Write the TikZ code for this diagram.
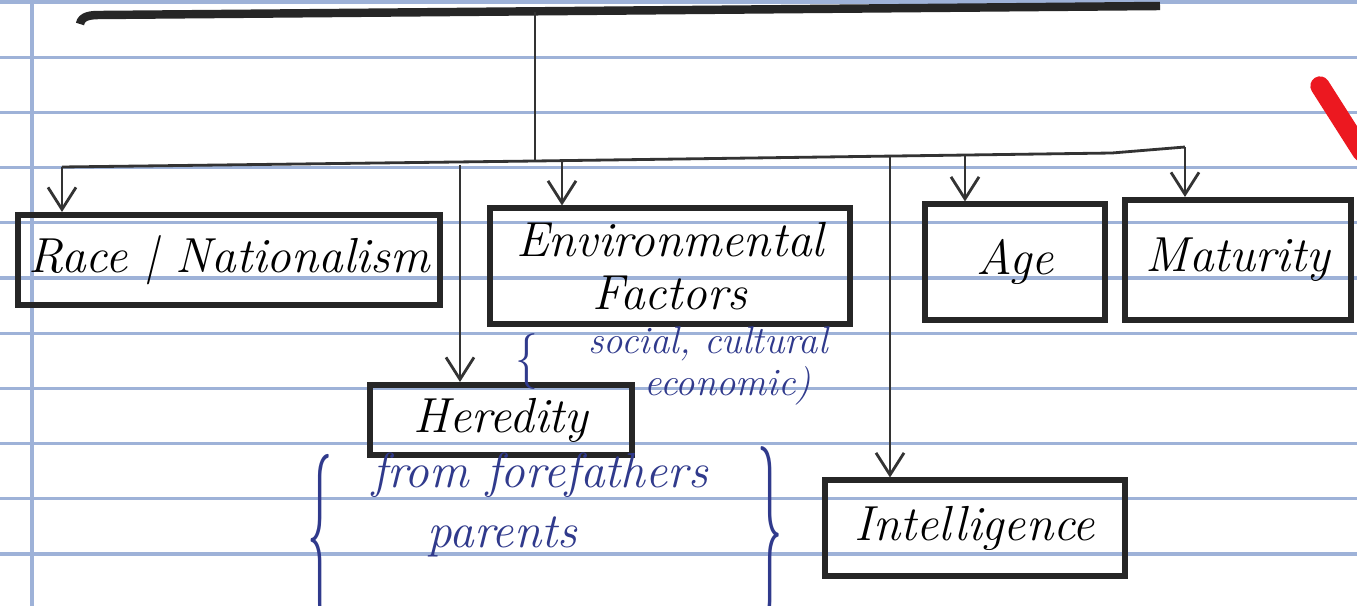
\documentclass[tikz,border=0pt]{standalone}
\usepackage{amsmath,amssymb}
\usepackage{graphicx}
\usepackage{tikz}
\usepackage{xcolor}
\usetikzlibrary{arrows.meta}
\definecolor{ruleblue}{RGB}{158,178,216}
\definecolor{inkblue}{RGB}{48,58,140}
\definecolor{inkred}{RGB}{236,24,32}

\begin{document}
\begin{tikzpicture}[x=0.01cm,y=-0.01cm,every node/.style={font=\fontsize{14}{17}\selectfont\itshape},
  box/.style={draw=black!85,line width=1.7pt,inner sep=2pt},
  link/.style={draw=black!80,line width=0.8pt},
  arr/.style={link,-{Straight Barb[length=2.2mm,width=2.8mm]}},
  note/.style={text=inkblue,font=\fontsize{11}{12}\selectfont\itshape,align=center},
  bracenote/.style={text=inkblue,inner sep=0pt,font=\fontsize{14}{17}\selectfont}]
\useasboundingbox (0,0) rectangle (1357,606);
\fill[white] (0,0) rectangle (1357,606);
\foreach \k in {0,...,10}
  \draw[ruleblue,line width=0.9pt] (0,2+55.2*\k) -- (1357,2+55.2*\k);
\draw[ruleblue,line width=0.9pt] (32,0) -- (32,606);
\draw[inkred,line width=5.5pt,line cap=round] (1320,86) -- (1362,152);
\coordinate (topl) at (80,24);
\coordinate (topr) at (1160,6);
\draw[black!85,line width=2.4pt] (topl) to[out=80,in=180] (100,15) -- (topr);
\coordinate (stem) at (535,12);
\coordinate (fork) at (535,161);
\coordinate (busl) at (62,167);
\coordinate (bend) at (1112,153);
\coordinate (busr) at (1185,147);
\draw[link] (stem) -- (fork);
\draw[link] (busl) -- (fork) -- (bend) -- (busr);
\coordinate (tapH) at (460,165);
\coordinate (tapE) at (562,160);
\coordinate (tapI) at (890,157);
\coordinate (tapA) at (965,156);
\node[box,minimum width=4.22cm,minimum height=0.9cm] (race) at (229,260) {Race | Nationalism};
\node[box,minimum width=3.6cm,minimum height=1.15cm,align=center,font=\fontsize{14}{15}\selectfont\itshape] (env) at (670,266) {Environmental\\Factors};
\node[box,minimum width=1.8cm,minimum height=1.15cm] (age) at (1015,262) {Age};
\node[box,minimum width=2.25cm,minimum height=1.2cm] (mat) at (1238,260) {Maturity};
\node[box,minimum width=2.62cm,minimum height=0.7cm] (her) at (501,420) {Heredity};
\node[box,minimum width=3.0cm,minimum height=0.95cm] (intel) at (975,528) {Intelligence};
\draw[arr] (busl) -- (busl |- race.north);
\draw[arr] (tapE) -- (tapE |- env.north);
\draw[arr] (tapA) -- (tapA |- age.north);
\draw[arr] (busr) -- (busr |- mat.north);
\draw[arr] (tapH) -- (tapH |- her.north);
\draw[arr] (tapI) -- (tapI |- intel.north);
\node[bracenote] (envbrace) at (527,362) {\scalebox{0.9}[1.1]{$\{$}};
\node[note,inner sep=1pt] (envnote) at (708,366) {social, cultural\\\hspace*{0.4cm}economic)};
\node[bracenote] (lbrace) at (320,540) {\scalebox{1}[3.4]{$\{$}};
\node[text=inkblue,align=left,inner sep=1pt] (hernote) at (540,505) {from forefathers\\\hspace*{0.55cm}parents};
\node[bracenote] (rbrace) at (770,535) {\scalebox{1}[3.5]{$\}$}};
\end{tikzpicture}
\end{document}
